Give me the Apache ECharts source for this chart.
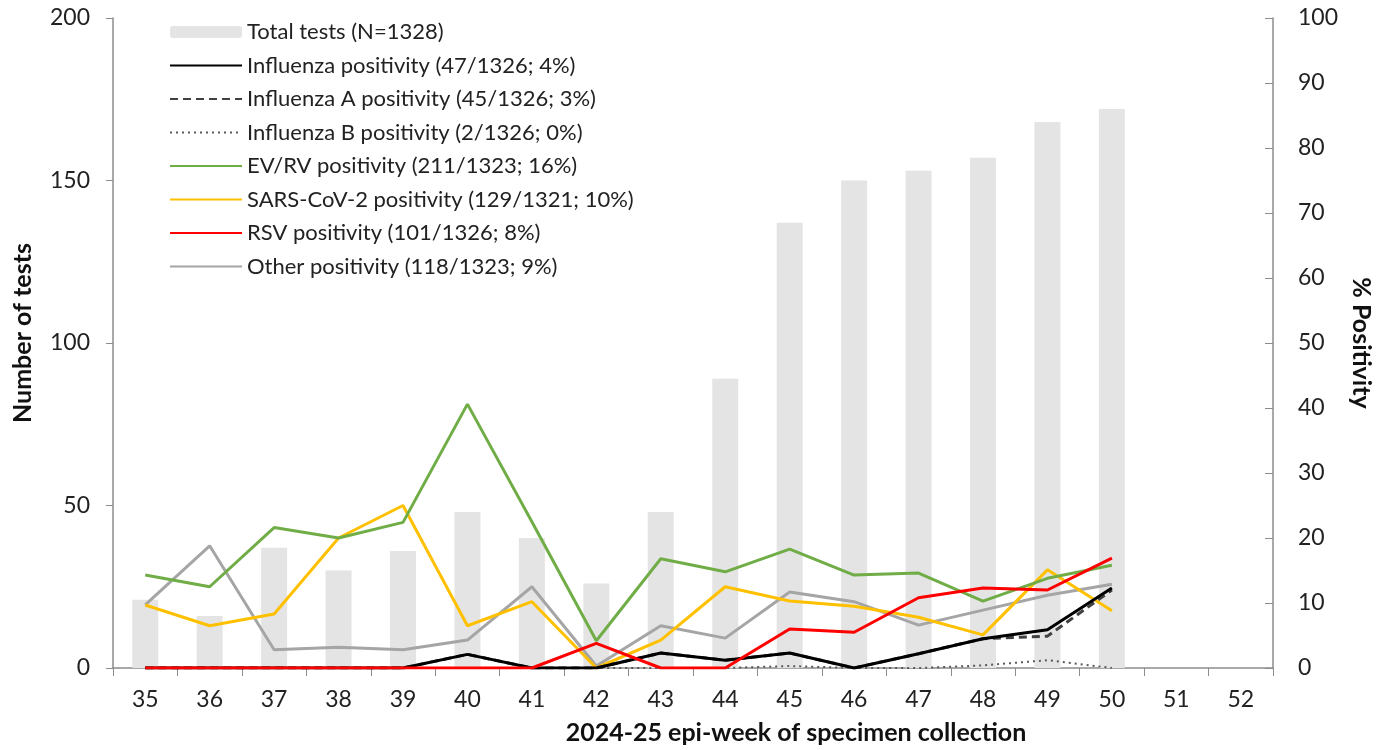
<!DOCTYPE html>
<html><head><meta charset="utf-8">
<script src="https://cdn.jsdelivr.net/npm/echarts@6/dist/echarts.min.js"></script>
<style>html,body{margin:0;padding:0;background:#fff}#c{width:1382px;height:750px}</style>
</head><body><div id="c"></div>
<script>
const weeks = ['35','36','37','38','39','40','41','42','43','44','45','46','47','48','49','50','51','52'];
const totalTests = [21,16,37,30,36,48,40,26,48,89,137,150,153,157,168,172,null,null];
const fluPos  = [0,0,0,0,0,2.1,0,0,2.3,1.2,2.3,0,2.2,4.5,5.9,12.3,null,null];
const fluAPos = [0,0,0,0,0,2.1,0,0,2.3,1.2,2.3,0,2.2,4.5,4.9,12.0,null,null];
const fluBPos = [0,0,0,0,0,0,0,0,0,0,0.3,0,0,0.4,1.2,0,null,null];
const evrvPos = [14.3,12.5,21.6,20.0,22.4,40.6,22.5,4.2,16.8,14.8,18.3,14.3,14.6,10.3,13.8,15.8,null,null];
const sarsPos = [9.7,6.5,8.3,20.0,25.0,6.5,10.2,0,4.3,12.5,10.3,9.5,7.8,5.1,15.1,8.8,null,null];
const rsvPos  = [0,0,0,0,0,0,0,3.8,0,0,6.0,5.5,10.8,12.3,12.0,16.9,null,null];
const otherPos= [9.7,18.8,2.8,3.2,2.8,4.3,12.5,0.3,6.5,4.6,11.7,10.2,6.6,8.9,11.2,12.9,null,null];
const names = ['Total tests (N=1328)','Influenza positivity (47/1326; 4%)','Influenza A positivity (45/1326; 3%)','Influenza B positivity (2/1326; 0%)','EV/RV positivity (211/1323; 16%)','SARS-CoV-2 positivity (129/1321; 10%)','RSV positivity (101/1326; 8%)','Other positivity (118/1323; 9%)'];

const FONT = 'Lato, "Open Sans", sans-serif';
function line(name, data, color, type, width) {
  return {name, type:'line', yAxisIndex:1, data, symbol:'none', showSymbol:false,
    lineStyle:{color, type, width}, itemStyle:{color}, connectNulls:false};
}
const legendData = names.map((n,i) => i === 0 ? {name:n} : {name:n, itemStyle:{opacity:0}});
const chart = echarts.init(document.getElementById('c'), null, {renderer:'canvas'});
chart.setOption({
  animation:false,
  textStyle:{fontFamily:FONT},
  grid:{left:113, right:109, top:18, bottom:82},
  legend:{orient:'vertical', left:164, top:16, itemWidth:72, itemHeight:12, itemGap:11.5,
    textStyle:{fontSize:22, color:'#222', fontFamily:FONT, padding:[0,0,0,0]},
    data:legendData},
  xAxis:{type:'category', data:weeks, boundaryGap:true,
    name:'2024-25 epi-week of specimen collection', nameLocation:'middle', nameGap:52,
    nameTextStyle:{fontSize:25, fontWeight:'bold', color:'#111', padding:[0,0,0,206]},
    axisLine:{lineStyle:{color:'#8c8c8c', width:1.5}},
    axisTick:{show:true, alignWithLabel:false, length:8, lineStyle:{color:'#8c8c8c'}},
    axisLabel:{fontSize:23, color:'#222', margin:20}},
  yAxis:[
    {type:'value', min:0, max:200, interval:50, position:'left',
     name:'Number of tests', nameLocation:'middle', nameGap:78, nameRotate:90,
     nameTextStyle:{fontSize:25, fontWeight:'bold', color:'#111', padding:[0,0,0,20]},
     axisLine:{show:true, lineStyle:{color:'#8c8c8c', width:1.5}},
     axisTick:{show:true, length:7, lineStyle:{color:'#8c8c8c'}}, splitLine:{show:false},
     axisLabel:{fontSize:23, color:'#222', margin:23}},
    {type:'value', min:0, max:100, interval:10, position:'right',
     name:'% Positivity', nameLocation:'middle', nameGap:70, nameRotate:-90,
     nameTextStyle:{fontSize:25, fontWeight:'bold', color:'#111'},
     axisLine:{show:true, lineStyle:{color:'#8c8c8c', width:1.5}},
     axisTick:{show:true, inside:true, length:8, lineStyle:{color:'#8c8c8c'}}, splitLine:{show:false},
     axisLabel:{fontSize:23, color:'#222', margin:25}}
  ],
  series:[
    {name:names[0], type:'bar', yAxisIndex:0, data:totalTests, barWidth:26, itemStyle:{color:'#e4e4e4'}},
    line(names[7], otherPos, '#a5a5a5', 'solid', 3),
    line(names[5], sarsPos, '#ffc000', 'solid', 3),
    line(names[4], evrvPos, '#70ad47', 'solid', 3),
    line(names[3], fluBPos, '#595959', [2,4], 2),
    line(names[2], fluAPos, '#404040', [8,5], 3),
    line(names[1], fluPos, '#000000', 'solid', 3),
    line(names[6], rsvPos, '#ff0000', 'solid', 3)
  ]
});
</script></body></html>
